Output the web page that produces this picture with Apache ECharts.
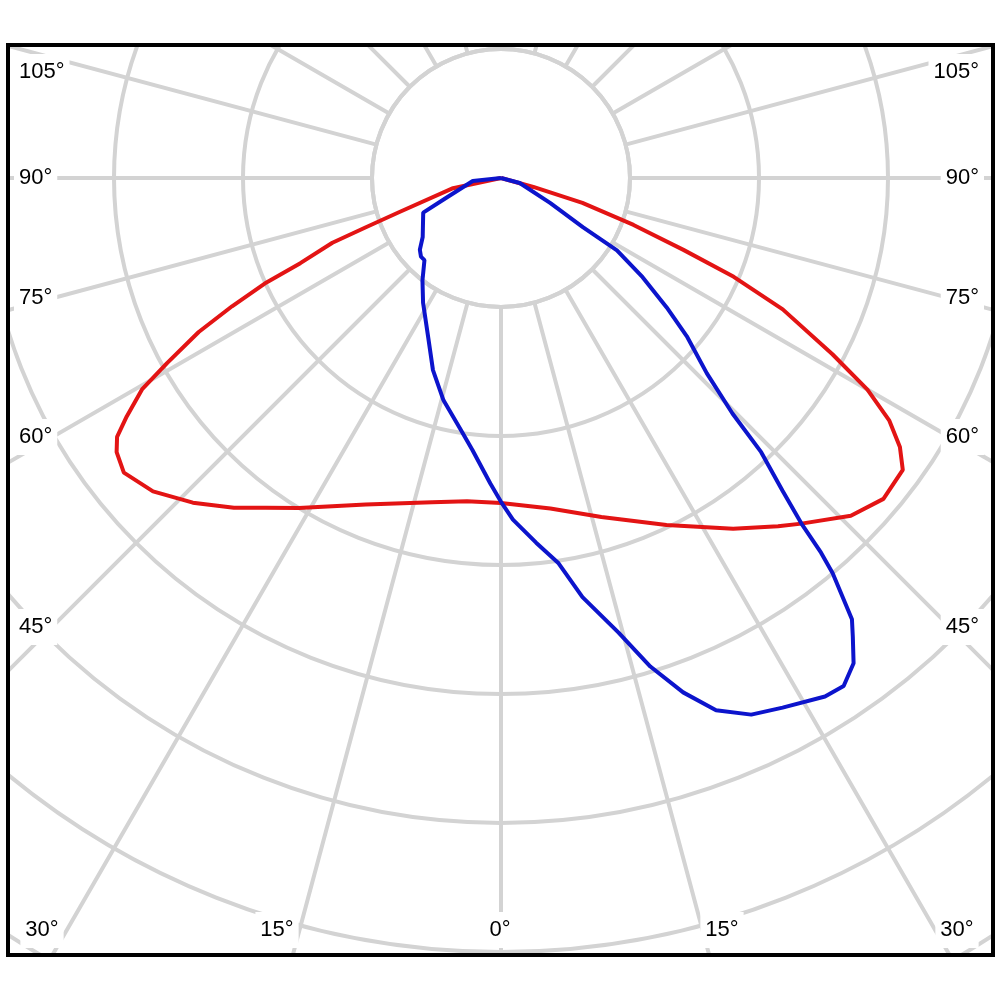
<!DOCTYPE html>
<html>
<head>
<meta charset="utf-8">
<script src="https://cdn.jsdelivr.net/npm/echarts@6/dist/echarts.min.js"></script>
<style>
  html, body { margin: 0; padding: 0; background: #fff; }
  #frame {
    position: absolute; left: 6px; top: 43px; width: 989px; height: 914px;
    box-sizing: border-box; border: 4px solid #000; overflow: hidden;
  }
  #chart { width: 100%; height: 100%; }
</style>
</head>
<body>
<div id="frame"><div id="chart"></div></div>
<script>
// gamma angles (deg, 0 = straight down) and intensities
// one ring = 100 units
const redGammaLeft = [90, 78, 71.5, 70, 69, 67, 66, 64.5, 63, 61, 59.5, 57.5, 56, 54.5, 52, 48, 43.5, 39, 35.5, 31.5, 22.5, 12, 6, 0];
const redValueLeft = [0, 38, 83, 111, 140, 169, 199, 231, 263, 296, 323, 344, 359, 366, 371, 363, 347, 329, 314, 300, 274, 257, 252, 252];
const redGammaRight = [0, 8.5, 16.5, 25.5, 33.5, 38.5, 41, 46, 50, 54, 56, 58, 60, 62, 65, 67, 68.5, 70.5, 73, 74.5, 90];
const redValueRight = [252, 259, 274, 298, 326, 345, 355, 377, 387, 385, 373, 355, 328, 291, 241, 196, 152, 109, 66, 26, 0];

const blueGammaLeft = [90, 84, 70.5, 66, 53, 48.5, 45.5, 43, 37.5, 32, 24.5, 19.5, 14.5, 9, 6, 2, 0];
const blueValueLeft = [0, 22, 44, 66, 76, 84, 87, 87, 100, 114, 136, 158, 178, 198, 212, 237, 251];
const blueGammaRight = [0, 2, 5.5, 8.5, 11, 14.5, 17, 19.5, 22, 25, 28, 32, 34, 36, 37.5, 38.5, 40, 40.5, 41, 42, 43.5, 44.5, 46.5, 49.5, 52, 55, 58, 59, 63, 75, 90];
const blueValueRight = [250, 265, 284, 302, 331, 364, 396, 423, 445, 459, 465, 474, 475, 465, 448, 437, 400, 382, 355, 326, 293, 256, 220, 190, 163, 134, 106, 74, 43, 15, 0];

// angle labels round the frame
const sideLabels = ['105°', '90°', '75°', '60°', '45°'];
const bottomLabels = ['30°', '15°', '0°', '15°', '30°'];

// layout (page pixels)
const frameOrigin = [10, 47];
const polarCenter = [501, 178];
const ringPx = 129;
const sideLabelY = [72, 178, 298, 437, 627];
const sideLabelX = [19, 979];
const bottomLabelX = [42, 277, 500, 722, 957];
const bottomLabelY = 930;

const gridColor = '#d3d3d3';
const labelFont = '22px "Liberation Sans", Arial, sans-serif';

// left half (C180 side) runs the other way round: angle = 360 - gamma
function toPolar(gLeft, vLeft, gRight, vRight) {
  const pts = [];
  gLeft.forEach((g, i) => pts.push([vLeft[i], 360 - g]));
  gRight.forEach((g, i) => pts.push([vRight[i], g]));
  return pts;
}

const chart = echarts.init(document.getElementById('chart'), null, { renderer: 'canvas' });

const cx = polarCenter[0] - frameOrigin[0];
const cy = polarCenter[1] - frameOrigin[1];

const labelStyle = (text, align) => ({
  text: text,
  fill: '#000',
  font: labelFont,
  align: align,
  verticalAlign: 'middle',
  backgroundColor: '#fff',
  padding: [7, 5]
});

const graphics = [];
sideLabels.forEach((t, i) => {
  graphics.push({ type: 'text', z: 100, x: sideLabelX[0] - frameOrigin[0] - 5, y: sideLabelY[i] - frameOrigin[1], style: labelStyle(t, 'left') });
  graphics.push({ type: 'text', z: 100, x: sideLabelX[1] - frameOrigin[0] + 5, y: sideLabelY[i] - frameOrigin[1], style: labelStyle(t, 'right') });
});
bottomLabels.forEach((t, i) => {
  graphics.push({ type: 'text', z: 100, x: bottomLabelX[i] - frameOrigin[0], y: bottomLabelY - frameOrigin[1], style: labelStyle(t, 'center') });
});

const hidden = { show: false };

chart.setOption({
  animation: false,
  backgroundColor: '#fff',
  polar: [
    // grid: spokes start at the first ring
    { center: [cx, cy], radius: [ringPx, ringPx * 8] },
    // data
    { center: [cx, cy], radius: ringPx * 8 }
  ],
  angleAxis: [
    {
      polarIndex: 0, type: 'value', min: 0, max: 360, interval: 15,
      startAngle: 270, clockwise: false,
      axisLine: { show: true, lineStyle: { color: gridColor, width: 4 } },
      axisTick: hidden, axisLabel: hidden,
      splitLine: { show: true, lineStyle: { color: gridColor, width: 4 } }
    },
    {
      polarIndex: 1, type: 'value', min: 0, max: 360,
      startAngle: 270, clockwise: false,
      axisLine: hidden, axisTick: hidden, axisLabel: hidden, splitLine: hidden
    }
  ],
  radiusAxis: [
    {
      polarIndex: 0, type: 'value', min: 100, max: 800, interval: 100,
      axisLine: hidden, axisTick: hidden, axisLabel: hidden,
      splitLine: { show: true, lineStyle: { color: gridColor, width: 4 } }
    },
    {
      polarIndex: 1, type: 'value', min: 0, max: 800,
      axisLine: hidden, axisTick: hidden, axisLabel: hidden, splitLine: hidden
    }
  ],
  graphic: graphics,
  series: [
    {
      name: 'C0-C180', type: 'line', coordinateSystem: 'polar', polarIndex: 1,
      data: toPolar(redGammaLeft, redValueLeft, redGammaRight, redValueRight),
      showSymbol: false, smooth: false, z: 5,
      lineStyle: { color: '#e31414', width: 4 }
    },
    {
      name: 'C90-C270', type: 'line', coordinateSystem: 'polar', polarIndex: 1,
      data: toPolar(blueGammaLeft, blueValueLeft, blueGammaRight, blueValueRight),
      showSymbol: false, smooth: false, z: 6,
      lineStyle: { color: '#0c14cc', width: 4 }
    }
  ]
});
</script>
</body>
</html>
